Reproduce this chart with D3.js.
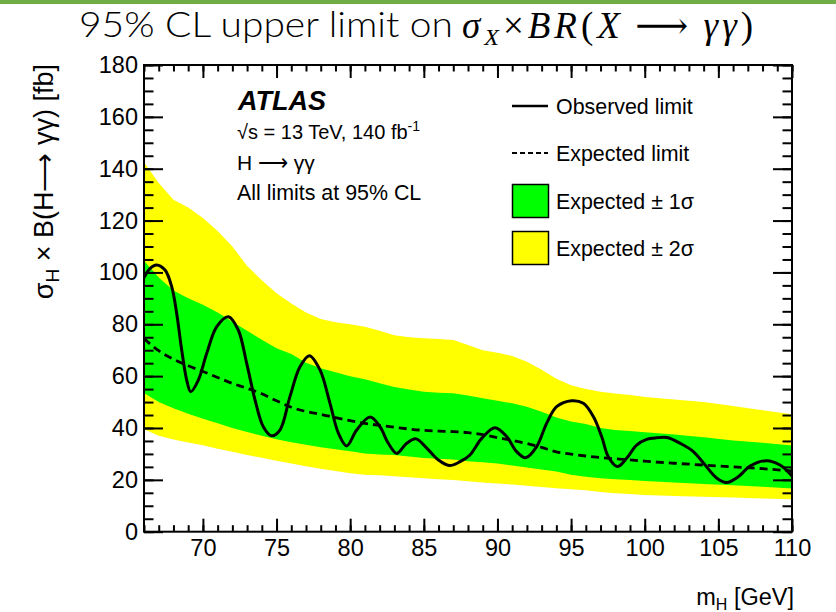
<!DOCTYPE html>
<html>
<head>
<meta charset="utf-8">
<script src="https://cdn.jsdelivr.net/npm/d3@7"></script>
<style>
  body { margin: 0; background: #fff; }
  svg { display: block; }
</style>
</head>
<body>
<svg id="chart" width="836" height="612"></svg>
<script>
// mass grid for the expected limit and its bands (GeV)
const massGrid = [66, 67, 68, 69, 70, 71, 72, 73, 74, 75, 76, 77, 78, 79, 80, 81, 82, 83, 84, 85,
  86, 87, 88, 89, 90, 91, 92, 93, 94, 95, 96, 97, 98, 99, 100, 102, 104, 106, 108, 110];
const expected = [74.5, 69.8, 66.5, 64, 61.8, 59.5, 57.2, 55.3, 53.2, 50.5, 48, 46.4, 45.3, 44, 42.8, 41.8, 41, 40.3, 39.6, 39.1,
  38.8, 38.6, 38.2, 37.4, 36.3, 35.2, 34, 32.5, 30.8, 29.9, 29.2, 28.6, 28.1, 27.7, 27.2, 26.4, 25.7, 25, 24.3, 23.4];
const plus2 = [142.5, 134.5, 128, 125, 121, 116, 110, 102.5, 97, 92, 88, 84.5, 82, 80.8, 80, 79, 77.5, 75.8, 75, 74.6,
  74.3, 73.9, 72, 70, 69, 67.8, 65.5, 62.5, 59, 56.5, 55, 54, 53.3, 52.7, 52, 51, 50, 48.5, 46.8, 45.3];
const plus1 = [104.5, 98, 93, 90, 87.5, 84.5, 81, 77.5, 74, 70.8, 68.5, 65.2, 63, 61.5, 60, 58.8, 57.3, 55.8, 54.8, 54,
  53.6, 53.4, 52.5, 51.5, 50.5, 49.5, 48.2, 46.3, 44, 42.5, 41.5, 40, 39.2, 38.8, 38.4, 37.5, 36.4, 35.2, 34.3, 33.2];
const minus1 = [53.5, 50, 47.6, 45.5, 43.6, 41.8, 40, 38.5, 37, 35.7, 34.5, 33.5, 32.6, 31.8, 31, 30.2, 29.8, 29.6, 29, 28.4,
  28.1, 27.8, 27.2, 26.8, 26.3, 25.5, 24.8, 24, 23.2, 22, 21.2, 20.6, 20.2, 19.9, 19.6, 19, 18.4, 17.9, 17.3, 16.7];
const minus2 = [39.5, 37, 35.6, 34.4, 33.3, 32, 30.8, 29.6, 28.5, 27.4, 26.3, 25.2, 24.3, 23.4, 22.5, 22, 21.8, 21.4, 21, 20.6,
  20.2, 19.9, 19.5, 19, 18.6, 18.2, 17.7, 17.2, 16.8, 16.4, 16, 15.3, 14.8, 14.5, 14.2, 13.8, 13.5, 13.2, 12.8, 12.5];

// observed limit
const obsMass = [66.0, 66.4, 66.86, 67.43, 67.88, 68.22, 68.56, 68.9, 69.17, 69.69, 70.26, 70.94, 71.73, 72.4, 72.97,
  73.54, 74.1, 74.67, 75.23, 75.91, 76.59, 77.23, 77.95, 78.63, 79.2, 79.76, 80.44, 81.35, 82.02, 82.59, 83.16,
  83.84, 84.47, 85.2, 85.98, 86.73, 87.46, 88.13, 88.93, 89.83, 90.62, 91.3, 91.92, 92.66, 93.34, 94.02, 95.04,
  95.83, 96.51, 97.08, 97.53, 98.14, 98.77, 99.45, 100.13, 100.8, 101.5, 102.4, 103.3, 104.1, 104.9, 105.56,
  106.35, 107.15, 108.28, 109.18, 110];
const obsLimit = [98.0, 101.5, 102.9, 100.9, 94.5, 84.2, 70.1, 58.5, 54.0, 58.5, 68.8, 79.1, 82.9, 77.8, 65.0,
  50.8, 40.5, 37.0, 39.2, 52.1, 63.6, 67.9, 62.4, 49.5, 38.0, 33.1, 39.2, 44.2, 40.5, 34.1, 30.2,
  34.1, 35.8, 32.2, 27.7, 25.5, 27.0, 29.6, 36.0, 40.1, 36.7, 30.9, 28.5, 32.8, 41.8, 48.2, 50.5,
  49.5, 44.4, 36.6, 28.9, 25.1, 28.3, 33.4, 35.6, 36.2, 36.3, 34.1, 30.9, 25.7, 20.6, 19.0,
  21.2, 25.3, 27.4, 25.7, 21.5];

const xTicks = [70, 75, 80, 85, 90, 95, 100, 105, 110];
const yTicks = [0, 20, 40, 60, 80, 100, 120, 140, 160, 180];
const legendLabels = ["Observed limit", "Expected limit", "Expected \u00b1 1\u03c3", "Expected \u00b1 2\u03c3"];

const svg = d3.select("#chart");
const pL = 144, pR = 792, pT = 65, pB = 531.7;
const font = "'Liberation Sans', Arial, Helvetica, sans-serif";

const x = d3.scaleLinear().domain([66, 110]).range([pL, pR]);
const y = d3.scaleLinear().domain([0, 180]).range([pB, pT]);

// green bar on top of slide
svg.append("rect").attr("x", 0).attr("y", 0).attr("width", 836).attr("height", 4).attr("fill", "#70ad47");

// title
svg.append("text")
  .attr("x", 79).attr("y", 37)
  .attr("font-family", "Lato, 'Open Sans', sans-serif")
  .attr("font-size", 35).attr("font-weight", 300)
  .attr("textLength", 374).attr("lengthAdjust", "spacingAndGlyphs")
  .text("95% CL upper limit on");

// math part
const mathT = svg.append("text")
  .attr("x", 462).attr("y", 38)
  .attr("font-family", "'Liberation Serif', 'DejaVu Serif', serif")
  .attr("font-size", 37);
const mathParts = [
  { t: "\u03c3", it: true }, { t: "X", it: true, sub: true }, { t: "\u00d7" }, { t: "BR", it: true },
  { t: "(" }, { t: "X", it: true }, { t: "\u2009\u27f6\u2009" }, { t: "\u03b3\u03b3", it: true }, { t: ")" }
];
let prevSub = false;
mathParts.forEach(p => {
  const ts = mathT.append("tspan").text(p.t);
  if (p.it) ts.attr("font-style", "italic");
  if (p.sub) ts.attr("font-size", 24).attr("dy", 7);
  else if (prevSub) ts.attr("dy", -7);
  prevSub = !!p.sub;
});
const mw = mathT.node().getComputedTextLength();
if (mw < 295) {
  const nChars = mathParts.reduce((s, p) => s + p.t.length, 0);
  mathT.attr("letter-spacing", (295 - mw) / nChars);
} else {
  mathT.attr("transform", `translate(462,0) scale(${295 / mw},1) translate(-462,0)`);
}

// plot area
svg.append("clipPath").attr("id", "clip")
  .append("rect").attr("x", pL).attr("y", pT).attr("width", pR - pL).attr("height", pB - pT);
const plot = svg.append("g").attr("clip-path", "url(#clip)");

const band = (hi, lo) => d3.area()
  .x((d, i) => x(massGrid[i]))
  .y0((d, i) => y(lo[i]))
  .y1((d, i) => y(hi[i]));

plot.append("path").datum(massGrid).attr("d", band(plus2, minus2)).attr("fill", "#ffff00");
plot.append("path").datum(massGrid).attr("d", band(plus1, minus1)).attr("fill", "#00ff00");

plot.append("path").datum(massGrid)
  .attr("d", d3.line().curve(d3.curveMonotoneX).x(d => x(d)).y((d, i) => y(expected[i])))
  .attr("fill", "none").attr("stroke", "#000").attr("stroke-width", 2.8)
  .attr("stroke-dasharray", "8,5");

plot.append("path").datum(obsMass)
  .attr("d", d3.line().curve(d3.curveCatmullRom.alpha(0.5)).x(d => x(d)).y((d, i) => y(obsLimit[i])))
  .attr("fill", "none").attr("stroke", "#000").attr("stroke-width", 3);

// axes, ticks inside on all four sides
function styleAxis(g) {
  g.select(".domain").remove();
  g.selectAll("line").attr("stroke", "#000").attr("stroke-width", 2);
  g.selectAll("text").attr("font-family", font).attr("font-size", 23.5).attr("fill", "#000");
}

svg.append("g").attr("transform", `translate(0,${pB})`)
  .call(d3.axisBottom(x).tickValues(d3.range(66, 111)).tickSize(-6.5).tickFormat("")).call(styleAxis);
svg.append("g").attr("transform", `translate(0,${pB})`)
  .call(d3.axisBottom(x).tickValues(xTicks).tickSize(-13).tickPadding(8)).call(styleAxis);
svg.append("g").attr("transform", `translate(0,${pT})`)
  .call(d3.axisTop(x).tickValues(d3.range(66, 111)).tickSize(-6.5).tickFormat("")).call(styleAxis);
svg.append("g").attr("transform", `translate(0,${pT})`)
  .call(d3.axisTop(x).tickValues(xTicks).tickSize(-13).tickFormat("")).call(styleAxis);

svg.append("g").attr("transform", `translate(${pL},0)`)
  .call(d3.axisLeft(y).tickValues(d3.range(0, 181, 5)).tickSize(-9.5).tickFormat("")).call(styleAxis);
svg.append("g").attr("transform", `translate(${pL},0)`)
  .call(d3.axisLeft(y).tickValues(yTicks).tickSize(-19).tickPadding(6)).call(styleAxis);
svg.append("g").attr("transform", `translate(${pR},0)`)
  .call(d3.axisRight(y).tickValues(d3.range(0, 181, 5)).tickSize(-9.5).tickFormat("")).call(styleAxis);
svg.append("g").attr("transform", `translate(${pR},0)`)
  .call(d3.axisRight(y).tickValues(yTicks).tickSize(-19).tickFormat("")).call(styleAxis);

svg.append("rect")
  .attr("x", pL).attr("y", pT).attr("width", pR - pL).attr("height", pB - pT)
  .attr("fill", "none").attr("stroke", "#000").attr("stroke-width", 2);

// axis titles
const yt = svg.append("text")
  .attr("transform", `translate(53,${pT - 1}) rotate(-90)`)
  .attr("text-anchor", "end")
  .attr("font-family", font).attr("font-size", 27);
yt.append("tspan").text("\u03c3");
yt.append("tspan").attr("font-size", 19).attr("dy", 6).text("H");
yt.append("tspan").attr("dy", -6).text(" \u00d7 B(H\u27f6 \u03b3\u03b3) [fb]");

const xt = svg.append("text")
  .attr("x", pR + 2).attr("y", 605)
  .attr("text-anchor", "end")
  .attr("font-family", font).attr("font-size", 23.5);
xt.append("tspan").text("m");
xt.append("tspan").attr("font-size", 16).attr("dy", 5).text("H");
xt.append("tspan").attr("dy", -5).text(" [GeV]");

// ATLAS label block
svg.append("text").attr("x", 238).attr("y", 110)
  .attr("font-family", font).attr("font-size", 27)
  .attr("font-weight", "bold").attr("font-style", "italic").text("ATLAS");
const info = svg.append("text").attr("x", 237).attr("y", 138.5)
  .attr("font-family", font).attr("font-size", 20);
info.append("tspan").text("\u221as = 13 TeV, 140 fb");
info.append("tspan").attr("font-size", 14).attr("dy", -8).text("-1");
svg.append("text").attr("x", 237).attr("y", 170)
  .attr("font-family", font).attr("font-size", 21).text("H \u27f6 \u03b3\u03b3");
svg.append("text").attr("x", 237).attr("y", 200)
  .attr("font-family", font).attr("font-size", 21.4).text("All limits at 95% CL");

// legend
const legY = [106, 153, 201, 248];
const leg = svg.append("g");
leg.append("line").attr("x1", 512).attr("x2", 548).attr("y1", legY[0]).attr("y2", legY[0])
  .attr("stroke", "#000").attr("stroke-width", 2.5);
leg.append("line").attr("x1", 512).attr("x2", 548).attr("y1", legY[1]).attr("y2", legY[1])
  .attr("stroke", "#000").attr("stroke-width", 2.2).attr("stroke-dasharray", "5,3");
leg.append("rect").attr("x", 512.5).attr("y", legY[2] - 16.5).attr("width", 36).attr("height", 33)
  .attr("fill", "#00ff00").attr("stroke", "#000").attr("stroke-width", 1.5);
leg.append("rect").attr("x", 512.5).attr("y", legY[3] - 16.5).attr("width", 36).attr("height", 33)
  .attr("fill", "#ffff00").attr("stroke", "#000").attr("stroke-width", 1.5);
leg.selectAll("text.lab").data(legendLabels).join("text")
  .attr("class", "lab")
  .attr("x", 556).attr("y", (d, i) => legY[i] + 7.5)
  .attr("font-family", font).attr("font-size", 21.4).attr("fill", "#000")
  .text(d => d);
</script>
</body>
</html>
